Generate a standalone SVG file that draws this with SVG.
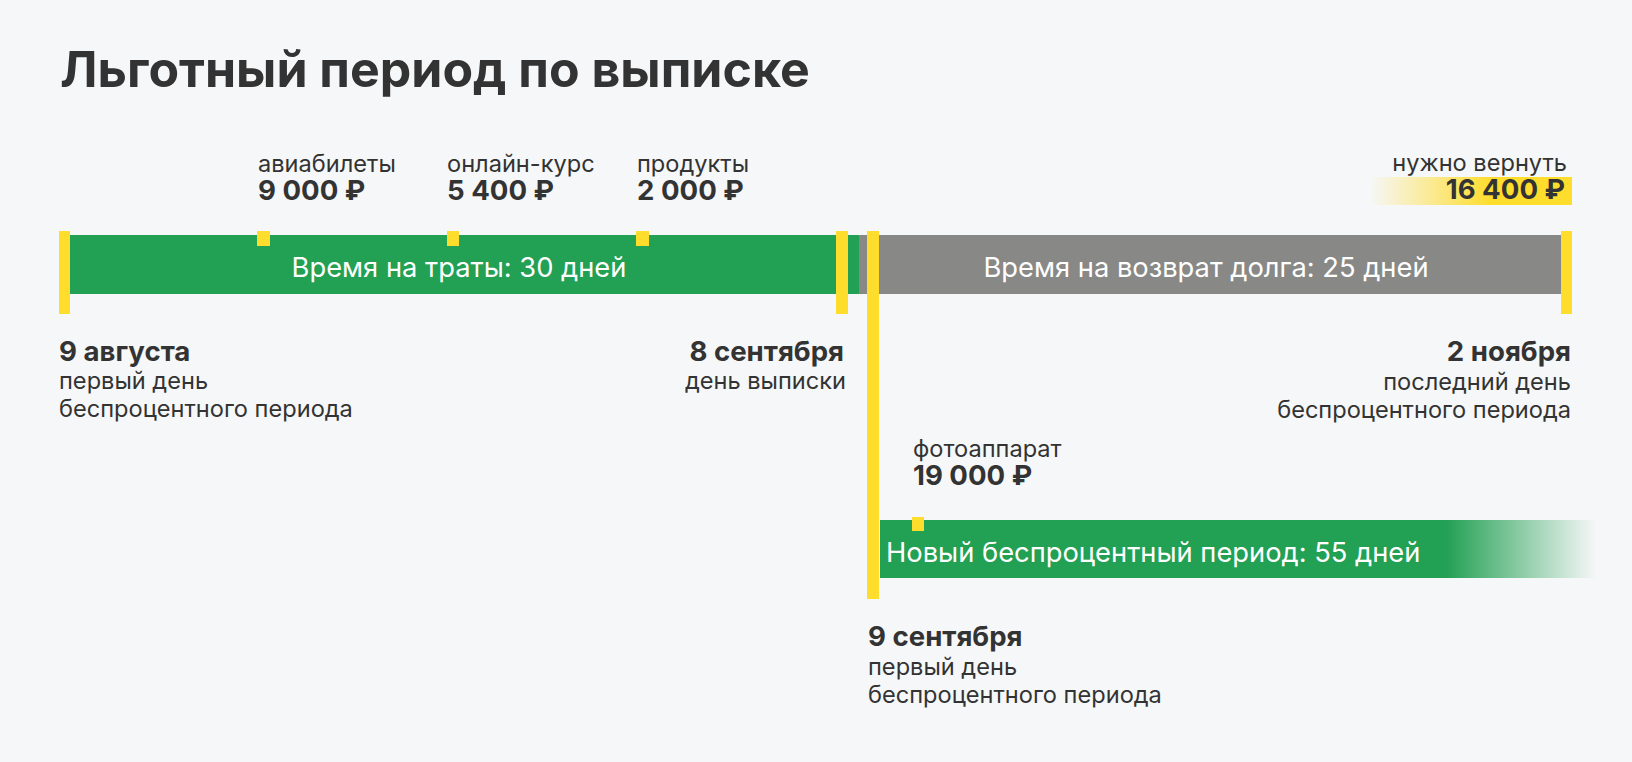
<svg xmlns="http://www.w3.org/2000/svg" width="1632" height="762" viewBox="0 0 1632 762">
<defs>
<style>
.t{font-family:Inter,Roboto,"Liberation Sans",sans-serif;fill:#333333}
.title{font-size:50px;font-weight:700}
.lbl{font-size:23.6px}
.amt{font-size:27.6px;font-weight:700}
.bar{font-family:Inter,Roboto,"Liberation Sans",sans-serif;font-size:27.3px;fill:#ffffff}
.y{fill:#FFDD2D}
</style>
<linearGradient id="gy" x1="0" y1="0" x2="1" y2="0">
<stop offset="0" stop-color="#FFDD2D" stop-opacity="0"/>
<stop offset="0.6" stop-color="#FFDD2D" stop-opacity="1"/>
<stop offset="1" stop-color="#FFDD2D" stop-opacity="1"/>
</linearGradient>
<linearGradient id="gg" x1="880" y1="0" x2="1596" y2="0" gradientUnits="userSpaceOnUse">
<stop offset="0" stop-color="#22A053"/>
<stop offset="0.79" stop-color="#22A053"/>
<stop offset="1" stop-color="#22A053" stop-opacity="0"/>
</linearGradient>
</defs>
<rect width="1632" height="762" fill="#F6F7F8"/>
<text class="t title" x="60" y="87">Льготный период по выписке</text>

<g id="spending-bar">
<rect x="70" y="235" width="789" height="59" fill="#22A053"/>
<text class="bar" x="459" y="277" text-anchor="middle">Время на траты: 30 дней</text>
</g>
<g id="repay-bar">
<rect x="859" y="235" width="702" height="59" fill="#888886"/>
<text class="bar" x="1206" y="277" text-anchor="middle">Время на возврат долга: 25 дней</text>
</g>
<g id="new-period-bar">
<rect x="880" y="520" width="716" height="58" fill="url(#gg)"/>
<text class="bar" x="886" y="562">Новый беспроцентный период: 55 дней</text>
</g>

<g id="markers">
<rect class="y" x="59" y="231" width="11" height="83"/>
<rect class="y" x="836" y="231" width="12" height="83"/>
<rect class="y" x="867" y="231" width="12" height="368"/>
<rect class="y" x="1561" y="231" width="11" height="83"/>
<rect class="y" x="257" y="231" width="13" height="15"/>
<rect class="y" x="447" y="231" width="12" height="15"/>
<rect class="y" x="636" y="231" width="13" height="15"/>
<rect class="y" x="912" y="517" width="12" height="14"/>
</g>

<g id="purchase-tickets">
<text class="t lbl" x="258" y="172">авиабилеты</text>
<text class="t amt" x="258" y="200">9 000 ₽</text>
</g>
<g id="purchase-course">
<text class="t lbl" x="447" y="172">онлайн-курс</text>
<text class="t amt" x="447" y="200">5 400 ₽</text>
</g>
<g id="purchase-food">
<text class="t lbl" x="637" y="172">продукты</text>
<text class="t amt" x="637" y="200">2 000 ₽</text>
</g>
<g id="repay-amount">
<rect x="1370" y="177" width="202" height="28" fill="url(#gy)"/>
<text class="t lbl" x="1567" y="171" text-anchor="end">нужно вернуть</text>
<text class="t amt" x="1565" y="199" text-anchor="end">16 400 ₽</text>
</g>
<g id="purchase-camera">
<text class="t lbl" x="913" y="457">фотоаппарат</text>
<text class="t amt" x="913" y="485">19 000 ₽</text>
</g>

<g id="date-aug9">
<text class="t amt" x="59" y="361">9 августа</text>
<text class="t lbl" x="59" y="389">первый день</text>
<text class="t lbl" x="59" y="417">беспроцентного периода</text>
</g>
<g id="date-sep8">
<text class="t amt" x="844" y="361" text-anchor="end">8 сентября</text>
<text class="t lbl" x="846" y="389" text-anchor="end">день выписки</text>
</g>
<g id="date-nov2">
<text class="t amt" x="1571" y="361" text-anchor="end">2 ноября</text>
<text class="t lbl" x="1571" y="390" text-anchor="end">последний день</text>
<text class="t lbl" x="1571" y="418" text-anchor="end">беспроцентного периода</text>
</g>
<g id="date-sep9">
<text class="t amt" x="868" y="646">9 сентября</text>
<text class="t lbl" x="868" y="675">первый день</text>
<text class="t lbl" x="868" y="703">беспроцентного периода</text>
</g>
<g id="connectors"/>
</svg>
